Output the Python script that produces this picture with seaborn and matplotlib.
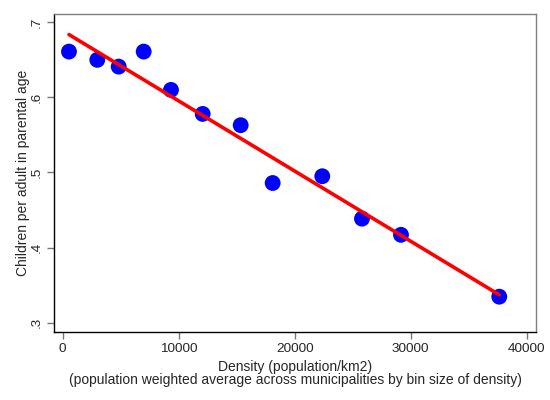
import matplotlib
matplotlib.use("Agg")
import matplotlib.pyplot as plt
import seaborn as sns
import pandas as pd

density = [543, 2983, 4828, 6983, 9336, 12069, 15345, 18103, 22379, 25802, 29164, 37638]
children = [0.661, 0.650, 0.641, 0.661, 0.610, 0.578, 0.563, 0.486, 0.495, 0.4385, 0.417, 0.3346]
x_ticks = [0, 10000, 20000, 30000, 40000]
x_tick_labels = ["0", "10000", "20000", "30000", "40000"]
y_ticks = [0.3, 0.4, 0.5, 0.6, 0.7]
y_tick_labels = [".3", ".4", ".5", ".6", ".7"]

sns.set_theme(style="white")
plt.rcParams['font.family'] = ['Liberation Sans', 'DejaVu Sans']

df = pd.DataFrame({"density": density, "children": children})

fig = plt.figure(figsize=(5.5, 4.0), dpi=100)
ax = fig.add_axes([0.0987, 0.1708, 0.9745 - 0.0987, 0.9658 - 0.1708])

sns.regplot(data=df, x="density", y="children", ci=None, ax=ax,
            scatter_kws=dict(s=130, color="#0000ff", edgecolor="none", zorder=2, alpha=1),
            line_kws=dict(color="#ff0000", lw=2.6, zorder=3))

ax.set_xlim(-724, 40802)
ax.set_ylim(0.288, 0.7115)
ax.set_xticks(x_ticks)
ax.set_xticklabels(x_tick_labels, fontsize=9.7)
ax.set_yticks(y_ticks)
ax.set_yticklabels(y_tick_labels, fontsize=9.7, rotation=90, va="center")

ax.tick_params(axis="both", which="major", direction="out", length=5, width=1,
               color="#777777", bottom=True, left=True, pad=3)

for side in ["left", "bottom"]:
    ax.spines[side].set_color("black")
    ax.spines[side].set_linewidth(1.0)
for side in ["top", "right"]:
    ax.spines[side].set_color("#808080")
    ax.spines[side].set_linewidth(1.0)

ax.set_xlabel("Density (population/km2)\n(population weighted average across municipalities by bin size of density)",
              fontsize=10, linespacing=0.9, labelpad=4)
ax.set_ylabel("Children per adult in parental age", fontsize=10, labelpad=1)

fig.savefig("out.png", dpi=100, facecolor="white")
